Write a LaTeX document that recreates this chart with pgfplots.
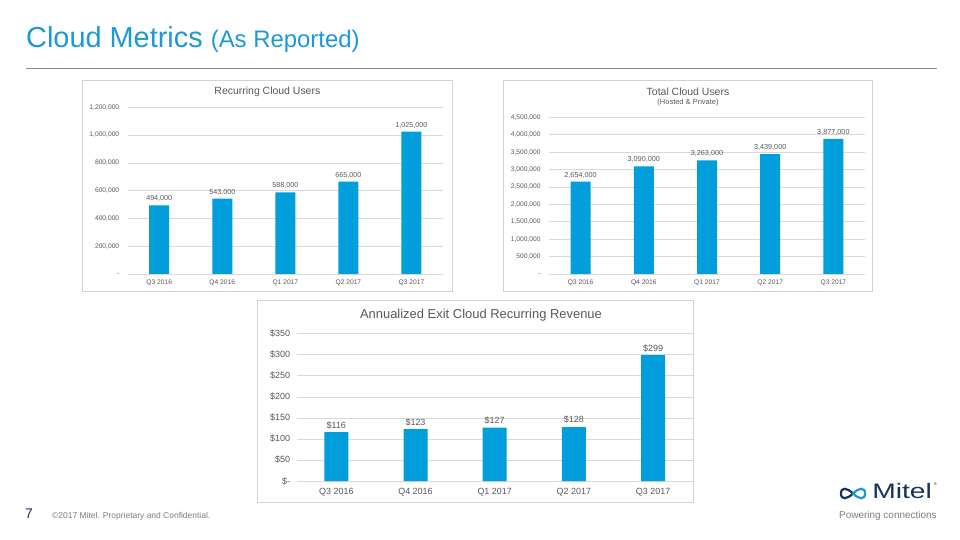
\documentclass[border=0pt]{standalone}
\usepackage{pgfplots}
\pgfplotsset{compat=1.18}
\usepackage{fontspec}
\setmainfont{Liberation Sans}
\definecolor{titleblue}{RGB}{27,154,214}
\definecolor{barblue}{RGB}{0,158,219}
\definecolor{gridgray}{RGB}{217,217,217}
\definecolor{labgray}{RGB}{89,89,89}
\definecolor{framegray}{RGB}{210,210,210}
\definecolor{footgray}{RGB}{127,127,127}
\definecolor{navy}{RGB}{22,52,90}
\definecolor{rulegray}{RGB}{140,140,140}
\pgfplotsset{
  cloudbar/.style={
    scale only axis, xmin=-0.5, xmax=4.5, ymin=0,
    axis line style={draw=none},
    ymajorgrids, grid style={draw=gridgray, line width=0.6pt},
    major tick length=0pt,
    xtick={0,...,4}, xticklabels={Q3 2016,Q4 2016,Q1 2017,Q2 2017,Q3 2017},
    scaled y ticks=false,
    /pgf/number format/assume math mode=true,
    tick label style={text=labgray},
    nodes near coords, point meta=explicit symbolic,
    every node near coord/.append style={text=labgray},
    clip=false,
  }
}
\begin{document}
\begin{tikzpicture}
\path[fill=white] (0bp,0bp) rectangle (960bp,540bp);
% main title
\node[anchor=base west, inner sep=0, text=titleblue, font=\fontsize{29}{32}\selectfont] at (26bp,492.8bp) {Cloud Metrics \fontsize{24}{28}\selectfont(As Reported)};
\draw[rulegray, line width=1bp] (26bp,471.6bp) -- (937bp,471.6bp);
% frames
\draw[framegray, line width=0.7bp] (82.7bp,459.3bp) rectangle (452bp,249bp);
\draw[framegray, line width=0.7bp] (503bp,459.3bp) rectangle (872bp,249bp);
\draw[framegray, line width=0.7bp] (257bp,239.3bp) rectangle (693bp,38bp);
% chart titles
\node[text=labgray, font=\fontsize{10.5}{12}\selectfont] at (267.4bp,448bp) {Recurring Cloud Users};
\node[text=labgray, font=\fontsize{10.5}{12}\selectfont] at (688bp,448.5bp) {Total Cloud Users};
\node[text=labgray, font=\fontsize{7.5}{9}\selectfont] at (688bp,437.7bp) {(Hosted \& Private)};
\node[text=labgray, font=\fontsize{13}{15}\selectfont] at (481bp,224.7bp) {Annualized Exit Cloud Recurring Revenue};
% chart 1
\begin{axis}[cloudbar, at={(127.7bp,266bp)}, anchor=south west, width=315.3bp, height=166.7bp,
  ymax=1200000, ytick={0,200000,400000,600000,800000,1000000,1200000},
  yticklabels={{-\hspace{3bp}},{200,000},{400,000},{600,000},{800,000},{1,000,000},{1,200,000}},
  tick label style={font=\fontsize{6.7}{8}\selectfont},
  yticklabel style={xshift=-5bp}, xticklabel style={yshift=-2.5bp},
  every node near coord/.append style={font=\fontsize{7.2}{8.5}\selectfont}]
\addplot[ybar, bar width=20bp, fill=barblue, draw=none] coordinates {
  (0,494000) [494{,}000]
  (1,543000) [543{,}000]
  (2,588000) [588{,}000]
  (3,665000) [665{,}000]
  (4,1025000) [1{,}025{,}000]
};
\end{axis}
% chart 2
\begin{axis}[cloudbar, at={(549bp,266bp)}, anchor=south west, width=316bp, height=156.7bp,
  ymax=4500000, ytick={0,500000,1000000,1500000,2000000,2500000,3000000,3500000,4000000,4500000},
  yticklabels={{-\hspace{3bp}},{500,000},{1,000,000},{1,500,000},{2,000,000},{2,500,000},{3,000,000},{3,500,000},{4,000,000},{4,500,000}},
  tick label style={font=\fontsize{6.7}{8}\selectfont},
  yticklabel style={xshift=-5bp}, xticklabel style={yshift=-2.5bp},
  every node near coord/.append style={font=\fontsize{7.3}{8.5}\selectfont}]
\addplot[ybar, bar width=20bp, fill=barblue, draw=none] coordinates {
  (0,2654000) [2{,}654{,}000]
  (1,3090000) [3{,}090{,}000]
  (2,3263000) [3{,}263{,}000]
  (3,3439000) [3{,}439{,}000]
  (4,3877000) [3{,}877{,}000]
};
\end{axis}
% chart 3
\begin{axis}[cloudbar, at={(296.7bp,59bp)}, anchor=south west, width=396bp, height=147.3bp,
  ymax=350, ytick={0,50,...,350},
  yticklabels={{\$-},{\$50},{\$100},{\$150},{\$200},{\$250},{\$300},{\$350}},
  tick label style={font=\fontsize{9}{11}\selectfont},
  yticklabel style={xshift=-3bp}, xticklabel style={yshift=-3.5bp},
  every node near coord/.append style={font=\fontsize{9}{11}\selectfont}]
\addplot[ybar, bar width=24bp, fill=barblue, draw=none] coordinates {
  (0,116) [\$116]
  (1,123) [\$123]
  (2,127) [\$127]
  (3,128) [\$128]
  (4,299) [\$299]
};
\end{axis}
% footer
\node[anchor=base west, inner sep=0, text=navy, font=\fontsize{14}{16}\selectfont] at (25bp,21.7bp) {7};
\node[anchor=base west, inner sep=0, text=footgray, font=\fontsize{8.5}{10}\selectfont] at (52bp,21.7bp) {©2017 Mitel. Proprietary and Confidential.};
% logo
\draw[navy, line width=2.2bp, line cap=round] (853bp,46.5bp) .. controls (847bp,52.5bp) and (841bp,53bp) .. (841bp,46.5bp) .. controls (841bp,40bp) and (847bp,40.5bp) .. (853bp,46.5bp);
\draw[titleblue, line width=2.2bp, line cap=round] (853bp,46.5bp) .. controls (859bp,52.5bp) and (865bp,53bp) .. (865bp,46.5bp) .. controls (865bp,40bp) and (859bp,40.5bp) .. (853bp,46.5bp);
\node[anchor=base west, inner sep=0, text=navy, font=\fontsize{21}{24}\selectfont, xscale=1.35, transform shape] at (872bp,41bp) {Mitel};
\node[anchor=base west, inner sep=0, text=navy, font=\fontsize{4}{5}\selectfont] at (934bp,54bp) {®};
\node[anchor=base west, inner sep=0, text=footgray, font=\fontsize{10}{12}\selectfont] at (839bp,22bp) {Powering connections};
\end{tikzpicture}
\end{document}
